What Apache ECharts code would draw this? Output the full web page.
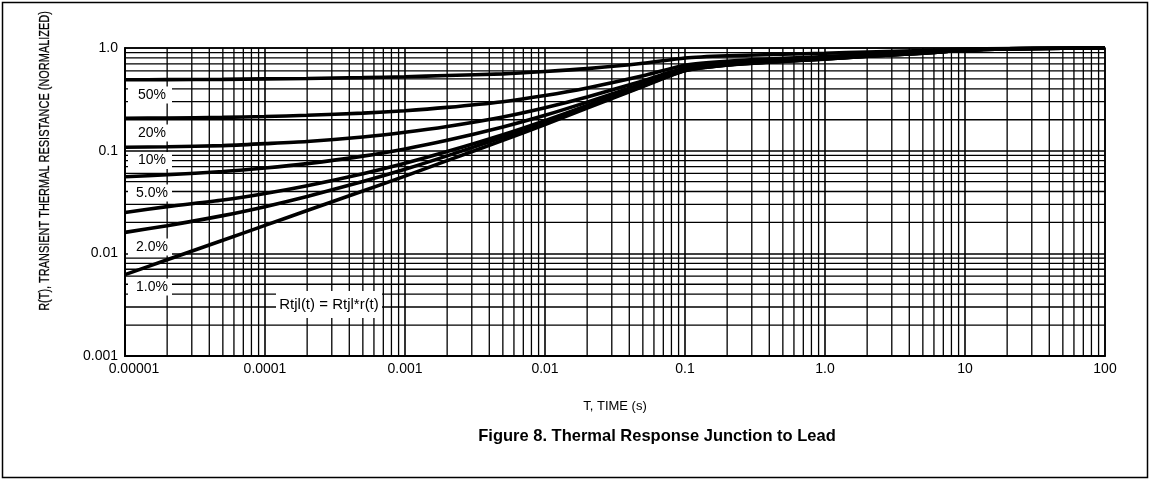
<!DOCTYPE html>
<html>
<head>
<meta charset="utf-8">
<script src="https://cdn.jsdelivr.net/npm/echarts@6/dist/echarts.min.js"></script>
<style>
html,body{margin:0;padding:0;background:#fff;}
#c{width:1150px;height:480px;}
</style>
</head>
<body>
<div id="c"></div>
<script>
// ---- data ----
const xTickLabels = ['0.00001','0.0001','0.001','0.01','0.1','1.0','10','100'];
const yTickLabels = ['0.001','0.01','0.1','1.0'];
const times = [1e-5,2e-5,5e-5,1e-4,2e-4,5e-4,1e-3,2e-3,5e-3,1e-2,2e-2,5e-2,0.1,0.2,0.5,1,2,5,10,20,50,100];
const duty50 = [0.49,0.492,0.495,0.50,0.505,0.515,0.525,0.54,0.56,0.59,0.63,0.71,0.80,0.84,0.87,0.89,0.915,0.945,0.975,0.99,0.998,1.0];
const duty20 = [0.207,0.208,0.211,0.215,0.221,0.232,0.245,0.264,0.30,0.344,0.408,0.536,0.68,0.744,0.792,0.824,0.864,0.912,0.96,0.984,0.996,1.0];
const duty10 = [0.108,0.109,0.112,0.117,0.123,0.136,0.151,0.172,0.213,0.262,0.334,0.478,0.64,0.712,0.766,0.80,0.847,0.90,0.955,0.982,0.996,1.0];
const duty5  = [0.0558,0.0582,0.0627,0.0678,0.0748,0.0885,0.104,0.126,0.170,0.221,0.297,0.449,0.62,0.696,0.753,0.791,0.839,0.896,0.953,0.981,0.995,1.0];
const duty2  = [0.025,0.0285,0.0331,0.0383,0.0456,0.0597,0.0754,0.098,0.143,0.196,0.275,0.432,0.608,0.686,0.745,0.784,0.833,0.892,0.951,0.98,0.995,1.0];
const duty1  = [0.016,0.0186,0.0233,0.0285,0.0358,0.0501,0.0659,0.089,0.135,0.188,0.267,0.426,0.604,0.683,0.743,0.782,0.832,0.891,0.95,0.98,0.995,1.0];
const single = [0.0062,0.00865,0.0134,0.0187,0.0261,0.0405,0.0565,0.080,0.126,0.18,0.26,0.42,0.60,0.68,0.74,0.78,0.83,0.89,0.95,0.98,0.995,1.0];
const curveNames = ['50%','20%','10%','5.0%','2.0%','1.0%','Single Pulse'];
const curveValues = [duty50,duty20,duty10,duty5,duty2,duty1,single];
const curveLabels = ['50%','20%','10%','5.0%','2.0%','1.0%'];
const formulaText = 'Rtjl(t) = Rtjl*r(t)';
const yTitle = 'R(T), TRANSIENT THERMAL RESISTANCE (NORMALIZED)';
const xTitle = 'T, TIME (s)';
const caption = 'Figure 8. Thermal Response Junction to Lead';

// ---- chart ----
const FONT = "'Liberation Sans',Arial,sans-serif";
const X_MIN = 1e-5, X_MAX = 100, Y_MIN = 0.001, Y_MAX = 1;

// minor log grid (2..9 in each decade) as broken line paths
const gridPts = [];
for (let d = -5; d <= 1; d++) for (let k = 2; k <= 9; k++) {
  const v = k * Math.pow(10, d);
  gridPts.push([v, Y_MIN], [v, Y_MAX], [v, '-']);
}
for (let d = -3; d <= -1; d++) for (let k = 2; k <= 9; k++) {
  const v = k * Math.pow(10, d);
  gridPts.push([X_MIN, v], [X_MAX, v], ['-', v]);
}

const series = [{
  type:'line', data:gridPts, symbol:'none', z:1, silent:true, connectNulls:false,
  lineStyle:{color:'#000', width:1.3}, emphasis:{disabled:true}
}];
curveValues.forEach((vals, i) => {
  series.push({
    name:curveNames[i], type:'line', smooth:0.25, symbol:'none', z:5, silent:true,
    lineStyle:{color:'#000', width:3.6},
    data: times.map((t, j) => [t, vals[j]])
  });
});

const labelRowsY = [95, 133, 160.5, 193, 247, 287];
const graphic = [
  {type:'rect', shape:{x:2.5,y:2.5,width:1145,height:475}, style:{fill:'none', stroke:'#000', lineWidth:1.5}, z:100},
  {type:'text', x:657, y:436, style:{text:caption, font:"bold 16.5px "+FONT, fill:'#000', textAlign:'center', textVerticalAlign:'middle'}, z:100},
  {type:'text', x:45, y:161, rotation:Math.PI/2, scaleX:0.73, style:{text:yTitle, font:"15px "+FONT, fill:'#000', stroke:'#000', lineWidth:0.25, textAlign:'center', textVerticalAlign:'middle'}, z:100}
];
curveLabels.forEach((txt, i) => {
  graphic.push({type:'rect', shape:{x:128, y:labelRowsY[i]-8.5, width:44, height:17}, style:{fill:'#fff'}, z:50});
  graphic.push({type:'text', x:152, y:labelRowsY[i], style:{text:txt, font:"14px "+FONT, fill:'#000', textAlign:'center', textVerticalAlign:'middle'}, z:51});
});
graphic.push({type:'rect', shape:{x:276, y:291, width:106, height:27}, style:{fill:'#fff'}, z:50});
graphic.push({type:'text', x:329, y:304.5, style:{text:formulaText, font:"15px "+FONT, fill:'#000', textAlign:'center', textVerticalAlign:'middle'}, z:51});

const fmtX = v => {
  const i = Math.round(Math.log10(v)) + 5;
  const s = xTickLabels[i] || '';
  return i === 0 ? '{first|' + s + '}' : s;
};
const fmtY = v => yTickLabels[Math.round(Math.log10(v)) + 3] || '';

const option = {
  animation:false,
  backgroundColor:'#fff',
  grid:{left:125, right:45, top:48, bottom:124, show:true, borderColor:'#000', borderWidth:1.5, containLabel:false},
  xAxis:{
    type:'log', logBase:10, min:X_MIN, max:X_MAX,
    name:xTitle, nameLocation:'middle', nameGap:44,
    nameTextStyle:{color:'#000', fontSize:13, fontFamily:FONT},
    axisLine:{show:true, onZero:false, lineStyle:{color:'#000', width:2}},
    axisTick:{show:false},
    splitLine:{show:true, lineStyle:{color:'#000', width:1.6}},
    axisLabel:{color:'#000', fontSize:14, fontFamily:FONT, margin:6, formatter:fmtX,
      rich:{first:{color:'#000', fontSize:14, fontFamily:FONT, padding:[0,0,0,18]}}}
  },
  yAxis:{
    type:'log', logBase:10, min:Y_MIN, max:Y_MAX,
    axisLine:{show:true, onZero:false, lineStyle:{color:'#000', width:2}},
    axisTick:{show:false},
    splitLine:{show:true, lineStyle:{color:'#000', width:1.6}},
    axisLabel:{color:'#000', fontSize:14, fontFamily:FONT, margin:7, formatter:fmtY}
  },
  series: series,
  graphic: graphic
};
const chart = echarts.init(document.getElementById('c'), null, {renderer:'canvas'});
chart.setOption(option);
</script>
</body>
</html>
